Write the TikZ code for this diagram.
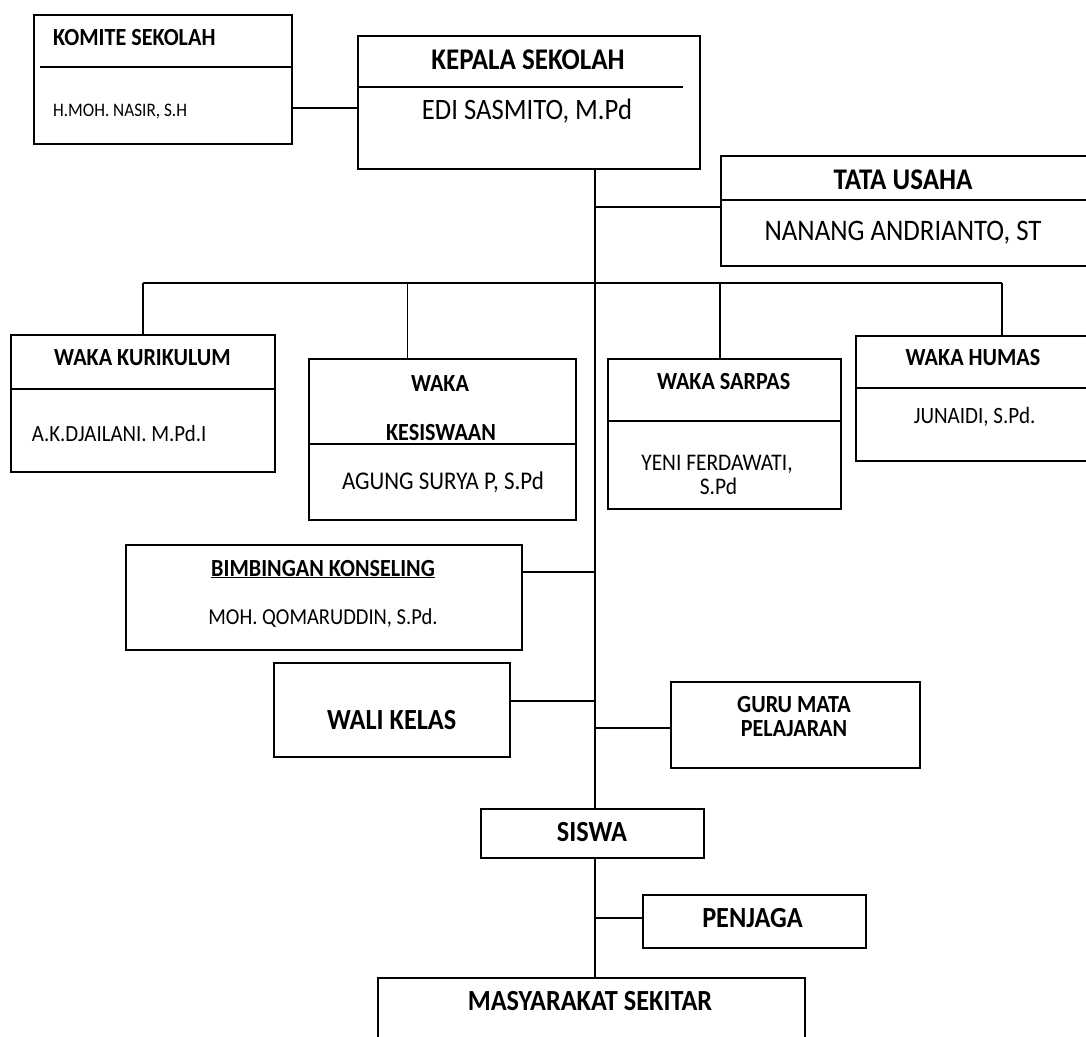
\documentclass[tikz,border=0pt]{standalone}
\usepackage{fontspec}
\setmainfont{Carlito}[FakeStretch=0.9]
\begin{document}
\begin{tikzpicture}[x=1pt,y=-1pt,
  box/.style={draw, line width=1.5pt, inner sep=0pt, anchor=north west},
  link/.style={line width=1.5pt},
  head/.style={font=\bfseries\fontsize{#1}{#1}\selectfont, inner sep=0pt},
  head/.default=24.6,
  who/.style={font=\fontsize{#1}{#1}\selectfont, inner sep=0pt},
  who/.default=23.2]
  \useasboundingbox (0,0) rectangle (1086,1036);
  \clip (0,0) rectangle (1086,1036);

  % Boxes
  \node[box, minimum width=258pt, minimum height=129pt] (komite) at (33,14) {};
  \node[box, minimum width=342pt, minimum height=133pt] (kepala) at (357,35) {};
  \node[box, minimum width=370pt, minimum height=110pt] (tata) at (720,155) {};
  \node[box, minimum width=264pt, minimum height=137pt] (kurikulum) at (10,334) {};
  \node[box, minimum width=267pt, minimum height=161pt] (kesiswaan) at (308,358) {};
  \node[box, minimum width=233pt, minimum height=150pt] (sarpas) at (607,358) {};
  \node[box, minimum width=292pt, minimum height=125pt] (humas) at (855,335) {};
  \node[box, minimum width=396pt, minimum height=105pt] (bk) at (125,544) {};
  \node[box, minimum width=236pt, minimum height=94pt] (wali) at (273,662) {};
  \node[box, minimum width=249pt, minimum height=86pt] (guru) at (670,681) {};
  \node[box, minimum width=223pt, minimum height=49pt] (siswa) at (480,808) {};
  \node[box, minimum width=223pt, minimum height=53pt] (penjaga) at (642,894) {};
  \node[box, minimum width=427pt, minimum height=100pt] (masy) at (377,977) {};

  % Dividers
  \draw[link] (40,67) -- (komite.east |- 0,67);
  \draw[link] (kepala.west |- 0,87) -- (683,87);
  \draw[link] (tata.west |- 0,200) -- (tata.east |- 0,200);
  \draw[link] (kurikulum.west |- 0,389) -- (kurikulum.east |- 0,389);
  \draw[link] (kesiswaan.west |- 0,444) -- (kesiswaan.east |- 0,444);
  \draw[link] (sarpas.west |- 0,421) -- (sarpas.east |- 0,421);
  \draw[link] (humas.west |- 0,388) -- (humas.east |- 0,388);

  % Texts
  \node[head, anchor=base west] (komiteT) at (53,45) {KOMITE SEKOLAH};
  \node[who=19.1, anchor=base west] (komiteN) at (53,116.7) {H.MOH. NASIR, S.H};
  \node[head=30, anchor=base] (kepalaT) at (528,69) {KEPALA SEKOLAH};
  \node[who=29.6, anchor=base] (kepalaN) at (527,119) {EDI SASMITO, M.Pd};
  \node[head=30, anchor=base] (tataT) at (903,189) {TATA USAHA};
  \node[who=29.8, anchor=base] (tataN) at (903,240) {NANANG ANDRIANTO, ST};
  \node[head, anchor=base] (kurikulumT) at (142.5,365.7) {WAKA KURIKULUM};
  \node[who, anchor=base west] (kurikulumN) at (31.7,441.7) {A.K.DJAILANI. M.Pd.I};
  \node[head, anchor=base] (kesiswaanT1) at (440,391) {WAKA};
  \node[head, anchor=base] (kesiswaanT2) at (441,440) {KESISWAAN};
  \node[who=25.5, anchor=base] (kesiswaanN) at (443,489.5) {AGUNG SURYA P, S.Pd};
  \node[head, anchor=base] (sarpasT) at (723.6,389.5) {WAKA SARPAS};
  \node[who=23.8, anchor=base] (sarpasN1) at (717,470) {YENI FERDAWATI,};
  \node[who=23.8, anchor=base] (sarpasN2) at (718.5,494) {S.Pd};
  \node[head, anchor=base] (humasT) at (973,365.7) {WAKA HUMAS};
  \node[who=23.4, anchor=base] (humasN) at (974.6,423) {JUNAIDI, S.Pd.};
  \node[head, anchor=base] (bkT) at (323,576) {\underline{BIMBINGAN KONSELING}};
  \node[who=22.8, anchor=base] (bkN) at (323,624) {MOH. QOMARUDDIN, S.Pd.};
  \node[head=29.2, anchor=base] (waliT) at (391.7,729) {WALI KELAS};
  \node[head, anchor=base] (guruT1) at (794,712.3) {GURU MATA};
  \node[head, anchor=base] (guruT2) at (794,736.7) {PELAJARAN};
  \node[head=29.2, anchor=base] (siswaT) at (592,841.7) {SISWA};
  \node[head=29.2, anchor=base] (penjagaT) at (752.5,927.7) {PENJAGA};
  \node[head=29.2, anchor=base] (masyT) at (590,1010) {MASYARAKAT SEKITAR};

  % Lines
  \coordinate (trunk) at (595,0);
  \coordinate (yk) at (0,108);
  \coordinate (yt) at (0,207);
  \coordinate (bar) at (0,283);
  \coordinate (kt) at (407.6,283);
  \coordinate (st) at (720,283);
  \draw[link] (komite.east |- yk) -- (kepala.west |- yk);
  \draw[link] (kepala.south -| trunk) -- (siswa.north -| trunk);
  \draw[link] (siswa.south -| trunk) -- (masy.north -| trunk);
  \draw[link] (trunk |- yt) -- (tata.west |- yt);
  \draw[link] (kurikulum.north |- bar) -- (humas.north |- bar);
  \draw[link] (kurikulum.north |- bar) -- (kurikulum.north);
  \draw[link] (kt) -- (kt |- kesiswaan.north);
  \draw[link] (st) -- (st |- sarpas.north);
  \draw[link] (humas.north |- bar) -- (humas.north);
  \draw[link] (bk.east |- 0,572) -- (trunk |- 0,572);
  \draw[link] (wali.east |- 0,701) -- (trunk |- 0,701);
  \draw[link] (trunk |- 0,728) -- (guru.west |- 0,728);
  \draw[link] (trunk |- 0,918) -- (penjaga.west |- 0,918);
\end{tikzpicture}
\end{document}
